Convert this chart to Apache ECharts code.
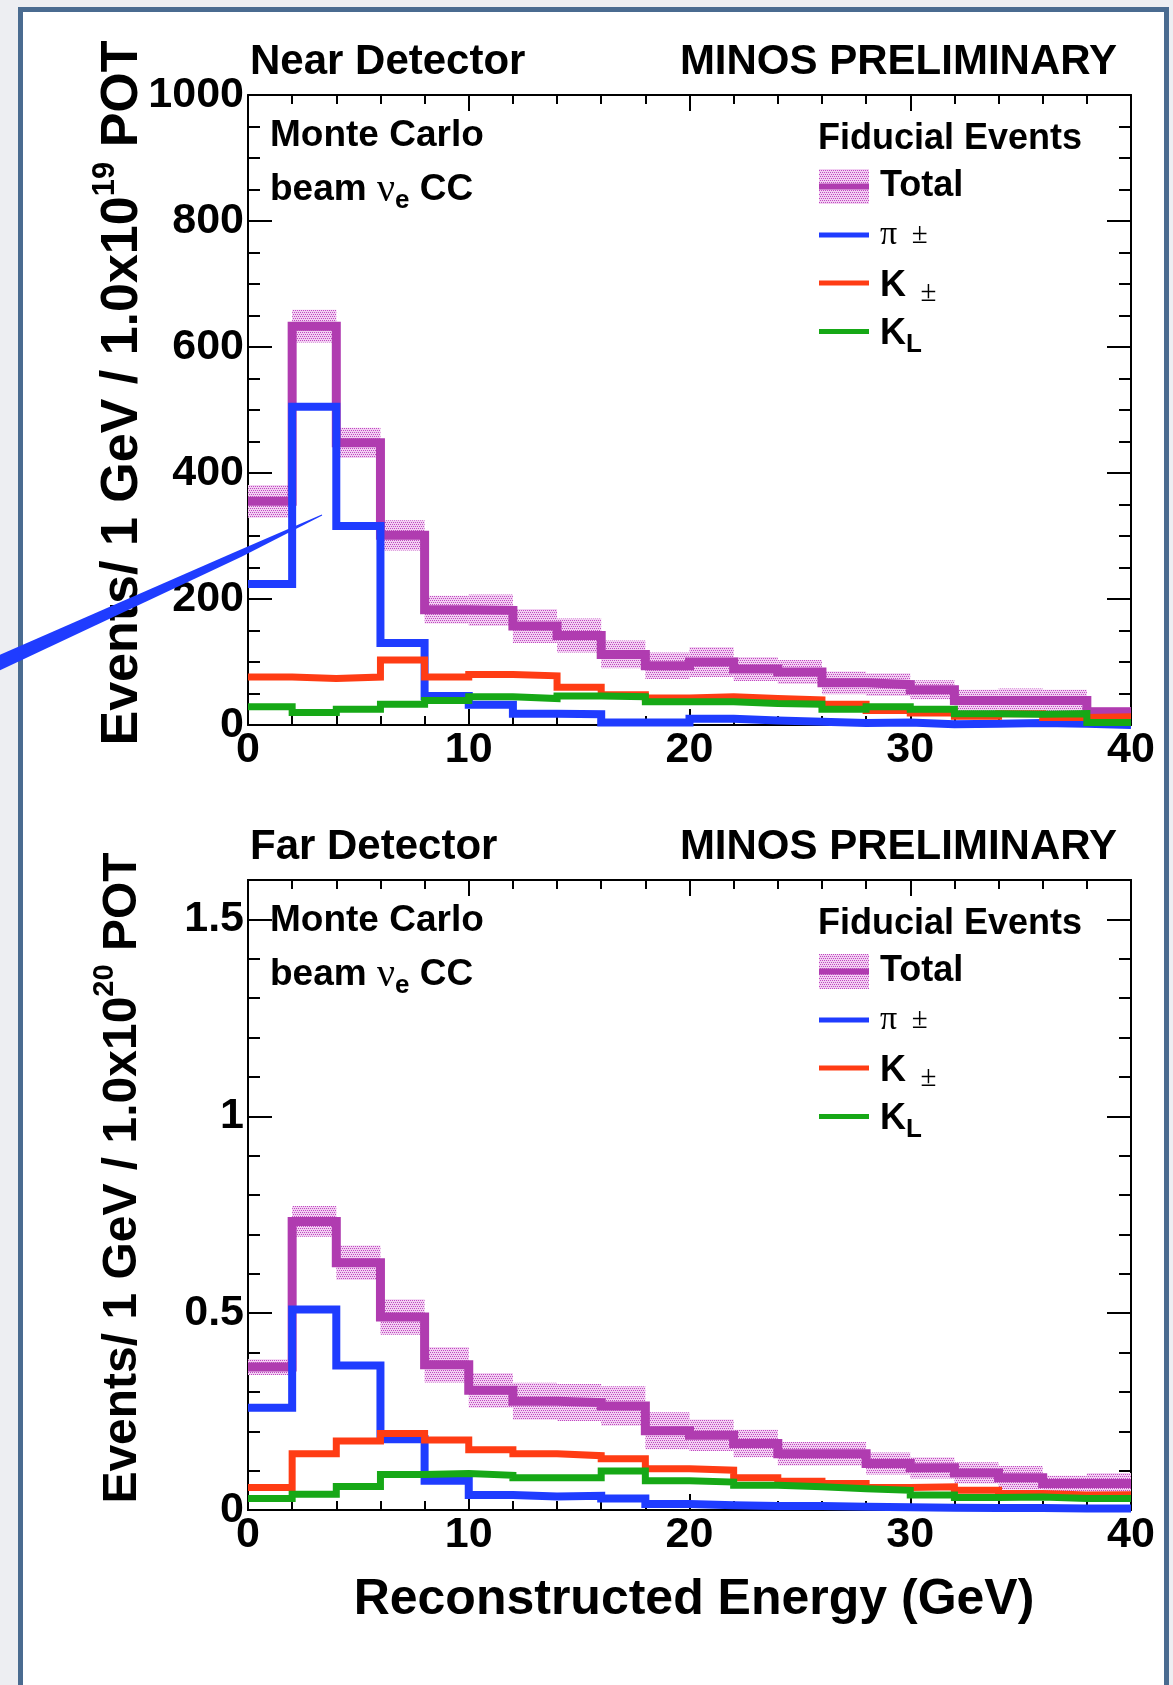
<!DOCTYPE html>
<html><head><meta charset="utf-8">
<script src="https://cdn.jsdelivr.net/npm/echarts@6/dist/echarts.min.js"></script>
<style>
html,body{margin:0;padding:0;background:#edeef2;overflow:hidden;}
#panel{position:absolute;left:18px;top:7px;width:1141px;height:1720px;background:#fff;border:5px solid #4a6b90;}
#chart{position:absolute;left:0;top:0;width:1173px;height:1685px;}
</style></head><body>
<div id="panel"></div><div id="chart"></div>
<script>
// ---------------- data ----------------
const binEdges = [0,2,4,6,8,10,12,14,16,18,20,22,24,26,28,30,32,34,36,38,40];
const xTickValues = [0,10,20,30,40];

const nearTotal    = [355,633,448,301,183,182,157,142,112,94,100,89,84,67,64,56,39,39,39,21];
const nearTotalErr = [26,26,24,24,22,25,27,27,22,21,24,19,19,18,18,15,17,19,17,7];
const nearPi       = [224,505,316,130,46,32,18,17,4,4,10,7,5,3,4,1,2,3,2,0];
const nearK        = [76,74,76,103,76,80,78,60,48,43,45,42,40,33,23,19,14,18,12,13];
const nearKL       = [29,20,25,33,39,45,42,46,45,37,37,34,33,25,29,25,18,17,18,4];

const farTotal     = [0.363,0.733,0.628,0.490,0.369,0.304,0.276,0.273,0.264,0.201,0.190,0.169,0.143,0.143,0.118,0.107,0.094,0.082,0.067,0.067];
const farTotalErr  = [0.020,0.039,0.044,0.045,0.045,0.044,0.047,0.047,0.050,0.047,0.040,0.035,0.030,0.030,0.028,0.027,0.027,0.030,0.020,0.027];
const farPi        = [0.260,0.509,0.367,0.180,0.074,0.038,0.034,0.036,0.029,0.015,0.012,0.010,0.010,0.008,0.007,0.006,0.005,0.005,0.004,0.004];
const farK         = [0.057,0.143,0.175,0.194,0.178,0.153,0.143,0.138,0.130,0.105,0.101,0.082,0.073,0.067,0.057,0.059,0.050,0.042,0.038,0.039];
const farKL        = [0.029,0.040,0.060,0.090,0.093,0.088,0.082,0.082,0.099,0.074,0.071,0.063,0.059,0.054,0.050,0.038,0.032,0.033,0.029,0.029];

const nearYAxis = {min:0, max:1000, interval:200, minorSplit:4};
const farYAxis  = {min:0, max:1.6, interval:0.5, minor:0.1};

// ---------------- styling ----------------
const FONT  = '"Liberation Sans", Arial, Helvetica, sans-serif';
const SERIF = '"Liberation Serif", "Times New Roman", serif';
const C_TOTAL = '#b03cb0', C_PI = '#1f3cff', C_K = '#ff3c14', C_KL = '#16a816';
const LABEL_SIZE = 43;

function makePattern(){
  const c = document.createElement('canvas'); c.width = 4; c.height = 4;
  const g = c.getContext('2d');
  g.fillStyle = 'rgba(242,208,242,1)'; g.fillRect(0,0,4,4);
  g.fillStyle = '#c048c0';
  g.fillRect(0,0,1,1); g.fillRect(2,0,1,1); g.fillRect(1,2,1,1); g.fillRect(3,2,1,1);
  return c;
}
const hatch = {image: makePattern(), repeat: 'repeat'};

const GRIDS = [
  {left:248, top:95,  width:883, height:630},
  {left:248, top:880, width:883, height:630}
];

const tickLine = {color:'#000', width:2};
function numFmt(v){ return String(+(+v).toFixed(2)); }
function xAx(gi, pos, labels){
  return {type:'value', gridIndex:gi, position:pos, min:0, max:40, interval:10,
    axisLine:{show:true, onZero:false, lineStyle:{color:'#000', width:2}},
    axisTick:{show:true, inside:true, length:16, lineStyle:tickLine},
    minorTick:{show:true, splitNumber:5, length:9, lineStyle:tickLine},
    splitLine:{show:false}, minorSplitLine:{show:false},
    axisLabel:{show:labels, color:'#000', fontFamily:FONT, fontWeight:'bold', fontSize:LABEL_SIZE, margin:4,
      formatter:numFmt}
  };
}
function yAxNear(pos, labels){
  return {type:'value', gridIndex:0, position:pos, min:nearYAxis.min, max:nearYAxis.max, interval:nearYAxis.interval,
    axisLine:{show:true, onZero:false, lineStyle:{color:'#000', width:2}},
    axisTick:{show:true, inside:true, length:24, lineStyle:tickLine},
    minorTick:{show:true, splitNumber:nearYAxis.minorSplit, length:12, lineStyle:tickLine},
    splitLine:{show:false}, minorSplitLine:{show:false},
    axisLabel:{show:labels, color:'#000', fontFamily:FONT, fontWeight:'bold', fontSize:LABEL_SIZE, margin:4,
      formatter:numFmt}
  };
}
function yAxFar(pos, labels, major){
  return {type:'value', gridIndex:1, position:pos, offset:0, min:farYAxis.min, max:farYAxis.max,
    interval: major ? farYAxis.interval : farYAxis.minor,
    axisLine:{show:true, onZero:false, lineStyle:{color:'#000', width:2}},
    axisTick:{show:true, inside:true, length: major ? 24 : 12, lineStyle:tickLine},
    minorTick:{show:false},
    splitLine:{show:false},
    axisLabel:{show:labels, color:'#000', fontFamily:FONT, fontWeight:'bold', fontSize:LABEL_SIZE, margin:4,
      formatter: function(v){
        const r = v / farYAxis.interval;
        return Math.abs(r - Math.round(r)) < 1e-6 ? numFmt(v) : '';
      }}
  };
}

function stepData(vals){
  const d = vals.map((v,i)=>[binEdges[i], v]);
  d.push([binEdges[vals.length], vals[vals.length-1]]);
  return d;
}
function lineSeries(name, vals, color, width, xi, yi, z){
  return {type:'line', name, xAxisIndex:xi, yAxisIndex:yi, data:stepData(vals), step:'end',
    symbol:'none', showSymbol:false, clip:false, silent:true, z,
    lineStyle:{color, width, join:'miter', cap:'butt'}, emphasis:{disabled:true}};
}
function bandSeries(vals, errs, xi, yi){
  return {type:'custom', xAxisIndex:xi, yAxisIndex:yi, silent:true, z:1, clip:true,
    data: vals.map((v,i)=>[binEdges[i], binEdges[i+1], v-errs[i], v+errs[i]]),
    encode:{x:[0,1], y:[2,3]},
    renderItem: function(params, api){
      const p0 = api.coord([api.value(0), api.value(3)]);
      const p1 = api.coord([api.value(1), api.value(2)]);
      return {type:'rect', shape:{x:p0[0], y:p0[1], width:p1[0]-p0[0], height:p1[1]-p0[1]},
        style:{fill:hatch}};
    }};
}

// ---------------- text helpers ----------------
function bold(size, extra){ return Object.assign({fontFamily:FONT, fontWeight:'bold', fontSize:size, fill:'#000'}, extra||{}); }
function txt(x, y, text, style, extra){
  return Object.assign({type:'text', x, y, silent:true, z:20,
    style:Object.assign({text, align:'left', verticalAlign:'middle'}, style)}, extra||{});
}

function panelTexts(top, detName, exp, ySize){
  const out = [];
  out.push(txt(250, top-33, detName, bold(42)));
  out.push(txt(1117, top-33, 'MINOS PRELIMINARY', bold(42, {align:'right'})));
  out.push(txt(270, top+41, 'Monte Carlo', bold(37)));
  out.push(txt(270, top+95, '{b|beam }{nu|\u03bd}{sub|e}{b| CC}', {
    rich:{
      b: bold(37, {lineHeight:48}),
      nu:{fontFamily:SERIF, fontSize:40, fontWeight:'normal', fill:'#000', lineHeight:48},
      sub: bold(26, {lineHeight:26, verticalAlign:'bottom'})
    }}));
  out.push(txt(818, top+44, 'Fiducial Events', bold(36)));
  // legend
  const lx0 = 819, lx1 = 869, tx = 880;
  const rows = [top+91.5, top+140, top+188, top+236.5];
  out.push({type:'rect', z:20, silent:true, shape:{x:lx0, y:rows[0]-17.5, width:lx1-lx0, height:35}, style:{fill:hatch}});
  out.push({type:'line', z:21, silent:true, shape:{x1:lx0, y1:rows[0], x2:lx1, y2:rows[0]}, style:{stroke:C_TOTAL, lineWidth:6}});
  out.push(txt(tx, rows[0], 'Total', bold(36)));
  out.push({type:'line', z:21, silent:true, shape:{x1:lx0, y1:rows[1], x2:lx1, y2:rows[1]}, style:{stroke:C_PI, lineWidth:5}});
  out.push(txt(tx, rows[1], '{pi|\u03c0}{pm|  \u00b1}', {rich:{
    pi:{fontFamily:SERIF, fontSize:34, fill:'#000', lineHeight:40},
    pm:{fontFamily:SERIF, fontSize:29, fill:'#000', lineHeight:40}}}));
  out.push({type:'line', z:21, silent:true, shape:{x1:lx0, y1:rows[2], x2:lx1, y2:rows[2]}, style:{stroke:C_K, lineWidth:5}});
  out.push(txt(tx, rows[2]+3, '{k|K}{pm|  \u00b1}', {rich:{
    k: bold(36, {lineHeight:44}),
    pm:{fontFamily:SERIF, fontSize:29, fill:'#000', lineHeight:32, verticalAlign:'bottom'}}}));
  out.push({type:'line', z:21, silent:true, shape:{x1:lx0, y1:rows[3], x2:lx1, y2:rows[3]}, style:{stroke:C_KL, lineWidth:5}});
  out.push(txt(tx, rows[3]+3, '{k|K}{sub|L}', {rich:{
    k: bold(36, {lineHeight:46}),
    sub: bold(26, {lineHeight:26, verticalAlign:'bottom'})}}));
  // y title
  out.push(txt(123, top+298, 'Events/ 1 GeV / 1.0x10{sup|' + exp + '} POT',
    Object.assign(bold(ySize, {align:'center', lineHeight:66}), {rich:{
      sup: bold(Math.round(ySize*0.6), {lineHeight:30, verticalAlign:'top'})}}), {rotation:Math.PI/2}));
  return out;
}

// annotation pointer line (presentation overlay)
const pointer = {type:'polygon', z:100, silent:true,
  shape:{points:[[-10,675],[241.5,556.8],[322.2,515.5],[321.8,514.5],[238.5,550.4],[-10,659]]},
  style:{fill:'#1f3cff'}};

const option = {
  animation:false,
  backgroundColor:'transparent',
  grid: GRIDS.map(g=>Object.assign({containLabel:false, outerBoundsMode:'none'}, g)),
  xAxis:[xAx(0,'bottom',true), xAx(0,'top',false), xAx(1,'bottom',true), xAx(1,'top',false)],
  yAxis:[yAxNear('left',true), yAxNear('right',false),
         yAxFar('left',true,true), yAxFar('left',false,false),
         yAxFar('right',false,true), yAxFar('right',false,false)],
  series:[
    bandSeries(nearTotal, nearTotalErr, 0, 0),
    lineSeries('Total', nearTotal, C_TOTAL, 9, 0, 0, 3),
    lineSeries('\u03c0 \u00b1', nearPi, C_PI, 8, 0, 0, 4),
    lineSeries('K \u00b1', nearK, C_K, 7, 0, 0, 5),
    lineSeries('K_L', nearKL, C_KL, 7, 0, 0, 6),
    bandSeries(farTotal, farTotalErr, 2, 2),
    lineSeries('Total', farTotal, C_TOTAL, 9, 2, 2, 3),
    lineSeries('\u03c0 \u00b1', farPi, C_PI, 8, 2, 2, 4),
    lineSeries('K \u00b1', farK, C_K, 7, 2, 2, 5),
    lineSeries('K_L', farKL, C_KL, 7, 2, 2, 6)
  ],
  graphic:[].concat(
    panelTexts(95, 'Near Detector', '19', 52),
    panelTexts(880, 'Far Detector', '20', 48),
    [txt(694, 1600, 'Reconstructed Energy (GeV)', bold(50, {align:'center'})), pointer]
  )
};

const chart = echarts.init(document.getElementById('chart'), null, {renderer:'canvas', width:1173, height:1685});
chart.setOption(option);
</script></body></html>
